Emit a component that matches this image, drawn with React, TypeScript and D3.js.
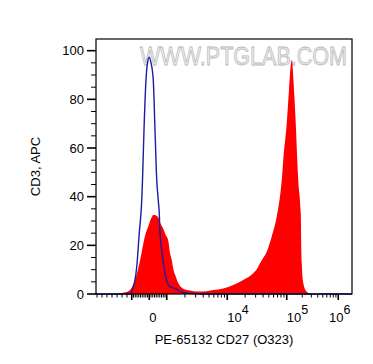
import React from "react";
import * as d3 from "d3";

// histogram data, x in display channels (0-1024), y as % of max
const redChannel = [0, 76, 103, 123, 136, 156, 176, 188, 196, 209, 223, 229, 240, 249, 258, 268, 278, 289, 296, 303, 310, 318, 329, 349, 376, 403, 429, 469, 509, 549, 589, 629, 648, 656, 670, 683, 703, 723, 739, 743, 749, 763, 772, 783, 792, 799, 805, 809, 819, 823, 829, 843, 863, 1024];
const redCount = [0, 0, 0.4, 0.8, 1.6, 5.8, 13.7, 20, 23.8, 27.7, 31.6, 32.5, 32.3, 31.4, 29, 27, 24.5, 22, 17, 14, 10, 7.5, 4.5, 2.2, 1.4, 1.0, 1.0, 1.6, 2.3, 3.7, 5.8, 8.5, 11, 12.6, 15, 17.4, 23.6, 31.8, 42.7, 46.9, 55.1, 70.2, 83.8, 96.2, 83.8, 70.2, 55.1, 46.9, 33.3, 12.7, 4.5, 0.9, 0, 0];

const blueChannel = [0, 136, 149, 156, 163, 173, 183, 186, 192, 200, 206, 213, 220, 229, 236, 243, 249, 253, 256, 263, 272, 280, 296, 316, 348, 384, 424, 1024];
const blueCount = [0, 0, 3.0, 5.8, 11.2, 25.0, 38.6, 46.8, 67.4, 88.0, 95, 97.3, 95, 88.0, 67.4, 46.8, 38.6, 33.3, 25.0, 18.1, 11.2, 6.5, 3.0, 2.3, 0.6, 0.2, 0, 0];

// axis ticks (channels): -10^3, 0, 10^3, 10^4, 10^5, 10^6
const xMajorTicks = [143, 213, 283, 525, 763, 969];
const xLeftMinorTicks = [4, 24, 44, 64, 84, 104, 124];
const xTickLabels = [
  { ch: 213, base: "0", exp: "" },
  { ch: 525, base: "10", exp: "4" },
  { ch: 763, base: "10", exp: "5" },
  { ch: 969, base: "10", exp: "6" },
];
const yTicks = [0, 20, 40, 60, 80, 100];

const xTitle = "PE-65132 CD27 (O323)";
const yTitle = "CD3, APC";
const watermark = "WWW.PTGLAB.COM";

const W = 373;
const H = 364;
const left = 96, right = 352, top = 39, bottom = 294;
const font = "'Liberation Sans', Arial, sans-serif";

const App = () => {
  const x = d3.scaleLinear().domain([0, 1024]).range([left, right]);
  const y = d3.scaleLinear().domain([0, 104.8]).range([bottom, top]);

  const red = redChannel.map((c, i) => [c, redCount[i]] as [number, number]);
  const blue = blueChannel.map((c, i) => [c, blueCount[i]] as [number, number]);

  const area = d3.area<[number, number]>()
    .x(d => x(d[0]))
    .y0(y(0))
    .y1(d => y(d[1]))
    .curve(d3.curveMonotoneX);
  const line = d3.line<[number, number]>()
    .x(d => x(d[0]))
    .y(d => y(d[1]))
    .curve(d3.curveMonotoneX);

  // minor ticks: linear around zero, log spaced in the decades
  const minor: number[] = [...xLeftMinorTicks];
  for (let i = 0; i < xMajorTicks.length - 1; i++) {
    const a = xMajorTicks[i], b = xMajorTicks[i + 1];
    for (let k = 1; k <= 9; k++) {
      if (i < 2) minor.push(a + (b - a) * k / 10);
      else if (k > 1) minor.push(a + (b - a) * Math.log10(k));
    }
  }
  const yMinor = d3.range(0, 105, 5).filter(v => v % 20 !== 0);

  return (
    <svg width={W} height={H} style={{ position: "absolute", left: 0, top: 0, background: "#fff" }} fontFamily={font}>
      <text x={140} y={65} fontSize={25} textLength={207} lengthAdjust="spacingAndGlyphs"
        fill="#efefef" stroke="#b9b9b9" strokeWidth={0.8}>{watermark}</text>

      <path d={area(red) || ""} fill="#ff0000" />
      <path d={line(blue) || ""} fill="none" stroke="#1c1ca6" strokeWidth={1.4} />

      <rect x={left} y={top} width={right - left} height={bottom - top} fill="none" stroke="#000" strokeWidth={1.2} />

      {/* y axis */}
      {yTicks.map(t => (
        <g key={"y" + t}>
          <line x1={left - 9} x2={left} y1={y(t)} y2={y(t)} stroke="#000" strokeWidth={1.6} />
          <text x={left - 12} y={y(t)} dy="0.35em" textAnchor="end" fontSize={13}>{t}</text>
        </g>
      ))}
      {yMinor.map(t => (
        <line key={"ym" + t} x1={left - 5} x2={left} y1={y(t)} y2={y(t)} stroke="#000" strokeWidth={1} />
      ))}

      {/* x axis */}
      {xMajorTicks.map(t => (
        <line key={"xM" + t} x1={x(t)} x2={x(t)} y1={bottom} y2={bottom + 6} stroke="#000" strokeWidth={1.6} />
      ))}
      {minor.map((t, i) => (
        <line key={"xm" + i} x1={x(t)} x2={x(t)} y1={bottom} y2={bottom + 3.5} stroke="#000" strokeWidth={1} />
      ))}
      {xTickLabels.map(l => (
        <text key={"xl" + l.ch} x={Math.min(x(l.ch), right - 23)} y={322} fontSize={13} textAnchor="start">
          {l.base}
          {l.exp && <tspan dy={-8} fontSize={12.5}>{l.exp}</tspan>}
        </text>
      ))}

      <text x={224} y={344} textAnchor="middle" fontSize={13}>{xTitle}</text>
      <text transform="translate(40,166.5) rotate(-90)" textAnchor="middle" fontSize={13}>{yTitle}</text>
    </svg>
  );
};

export default App;
